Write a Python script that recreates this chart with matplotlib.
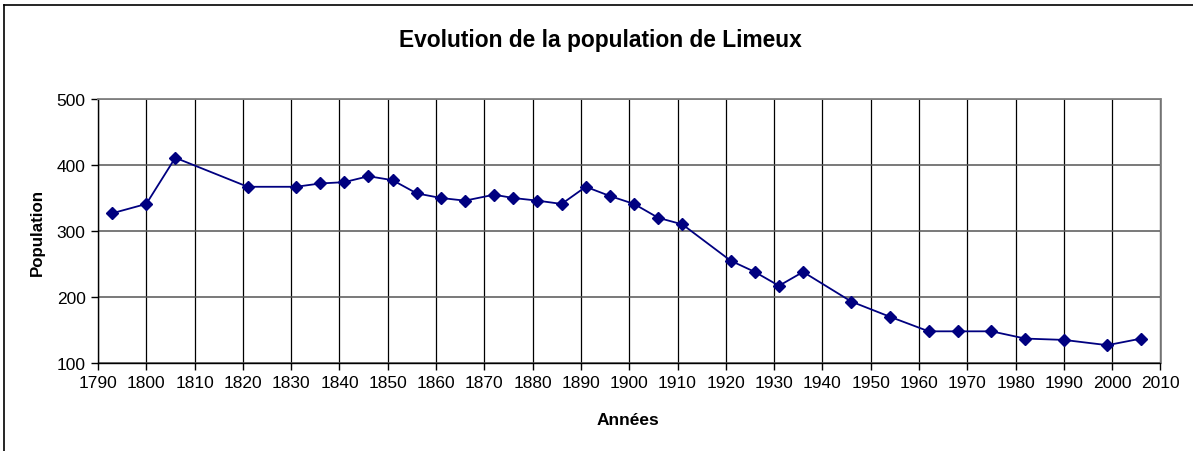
import matplotlib
matplotlib.use("Agg")
import matplotlib.pyplot as plt
from matplotlib.lines import Line2D

years = [1793, 1800, 1806, 1821, 1831, 1836, 1841, 1846, 1851, 1856, 1861, 1866,
         1872, 1876, 1881, 1886, 1891, 1896, 1901, 1906, 1911, 1921, 1926, 1931,
         1936, 1946, 1954, 1962, 1968, 1975, 1982, 1990, 1999, 2006]
population = [327, 341, 411, 367, 367, 372, 374, 383, 377, 357, 350, 346,
              355, 350, 346, 341, 367, 353, 341, 320, 310, 255, 238, 217,
              238, 193, 170, 148, 148, 148, 137, 135, 127, 137]
x_ticks = list(range(1790, 2011, 10))
y_ticks = [100, 200, 300, 400, 500]

plt.rcParams['font.family'] = ['Liberation Sans', 'DejaVu Sans']

W, H = 1193, 452
fig = plt.figure(figsize=(W / 100, H / 100), dpi=100)
fig.patch.set_facecolor('white')

# outer frame (left and top visible)
fig.add_artist(Line2D([4 / W, 4 / W], [0, 1 - 5.5 / H], transform=fig.transFigure,
                      color='black', lw=1.2))
fig.add_artist(Line2D([4 / W, 1], [1 - 5.5 / H, 1 - 5.5 / H], transform=fig.transFigure,
                      color='black', lw=1.2))

left, right, top, bottom = 98, 1160.5, 100, 364
ax = fig.add_axes([left / W, (H - bottom) / H, (right - left) / W, (bottom - top) / H])

ax.plot(years, population, color='#000080', lw=1.3, marker='D', markersize=6.5,
        markerfacecolor='#000080', markeredgecolor='#000080', zorder=3, clip_on=False)

ax.set_xlim(1790, 2010)
ax.set_ylim(100, 500)
ax.set_xticks(x_ticks)
ax.set_yticks(y_ticks)
ax.tick_params(axis='both', direction='out', length=5, width=1, labelsize=12.5,
               colors='black')
ax.tick_params(axis='x', pad=4)
ax.tick_params(axis='y', pad=4)

ax.xaxis.grid(True, color='black', lw=0.9)
ax.yaxis.grid(True, color='#555555', lw=1.1)
ax.set_axisbelow(True)

for s in ['top', 'right']:
    ax.spines[s].set_color('#808080')
    ax.spines[s].set_linewidth(1.3)
for s in ['left', 'bottom']:
    ax.spines[s].set_color('black')
    ax.spines[s].set_linewidth(1.0)

fig.text(600 / W, 1 - 40 / H, 'Evolution de la population de Limeux', ha='center',
         va='center', fontsize=16.4, fontweight='bold')
fig.text(628 / W, 1 - 421 / H, 'Années', ha='center', va='center', fontsize=12.5,
         fontweight='bold')
fig.text(37 / W, 1 - 232 / H, 'Population', ha='center', va='center', fontsize=12.2,
         fontweight='bold', rotation=90)

fig.savefig('out.png', dpi=100, facecolor='white')
